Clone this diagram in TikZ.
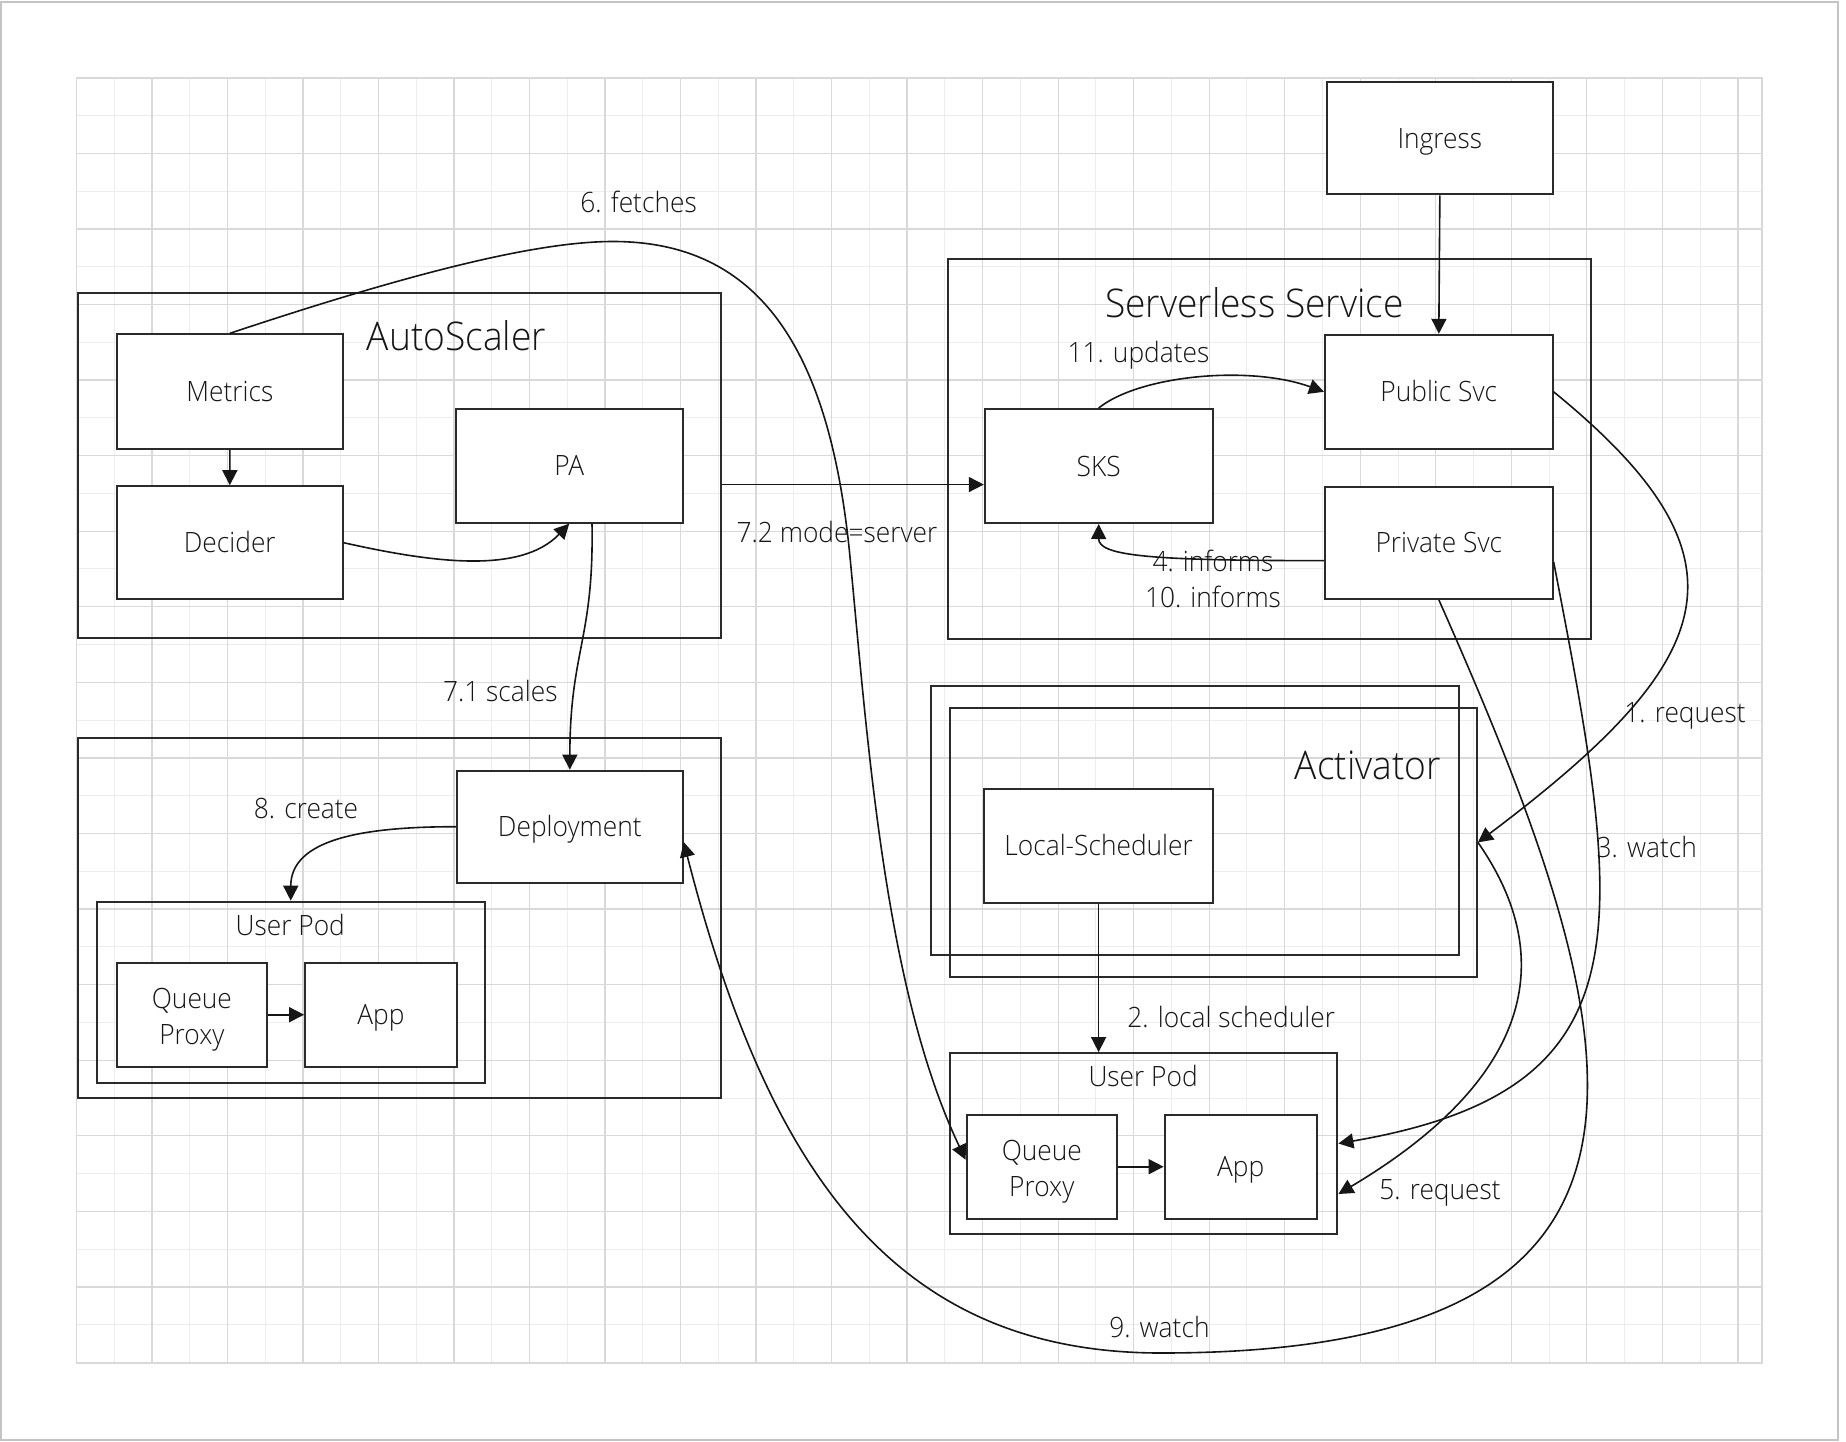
\documentclass[tikz,border=0pt]{standalone}
\usepackage{fontspec}
\IfFontExistsTF{Open Sans Light}
  {\setmainfont{Open Sans Light}[FakeStretch=0.94]}
  {\setmainfont{Open Sans}[FakeStretch=0.9]}
\usetikzlibrary{arrows.meta,calc}

\definecolor{ink}{HTML}{161616}
\definecolor{edgecol}{HTML}{2A2A2A}
\definecolor{gridmajor}{HTML}{D9D9D9}
\definecolor{gridminor}{HTML}{EDEDED}
\definecolor{framecol}{HTML}{C4C4C4}

\begin{document}
\begin{tikzpicture}[x=1pt,y=-1pt,
  txt/.style={font=\fontsize{28}{36}\selectfont, text=ink},
  title/.style={font=\fontsize{39.5}{46}\selectfont, text=ink, inner sep=0pt, anchor=base},
  boxbase/.style={draw=edgecol, line width=2pt, fill=white, inner sep=0pt, txt},
  box/.style={boxbase, text height=20pt, text depth=0pt},
  group/.style={draw=edgecol, line width=2pt, inner sep=0pt},
  lbl/.style={txt, inner sep=0pt, anchor=base},
  twoline/.style={txt, align=center, inner sep=0pt},
  conn/.style={draw=ink, line width=1.6pt, -{Triangle[length=15pt,width=15pt]}},
]
\useasboundingbox (0,0) rectangle (1846,1442);
\fill[white] (0,0) rectangle (1846,1442);

% background grid
\foreach \j in {1,3,...,43}
  \draw[gridminor, line width=1pt] ({76.4+37.76*\j},77.7) -- ({76.4+37.76*\j},1362.7);
\foreach \j in {1,3,...,33}
  \draw[gridminor, line width=1pt] (76.4,{77.7+37.79*\j}) -- (1762,{77.7+37.79*\j});
\foreach \j in {2,4,...,44}
  \draw[gridmajor, line width=1.3pt] ({76.4+37.76*\j},77.7) -- ({76.4+37.76*\j},1362.7);
\foreach \j in {2,4,...,32}
  \draw[gridmajor, line width=1.3pt] (76.4,{77.7+37.79*\j}) -- (1762,{77.7+37.79*\j});
\draw[gridmajor, line width=1.8pt] (76.4,77.7) rectangle (1762,1362.7);

% outer frame
\draw[framecol, line width=2pt] (1,1.7) rectangle (1838,1440);

% AutoScaler group
\node[group, minimum width=642.8pt, minimum height=344.9pt] (autoscaler) at (399.1,465.65) {};
\node[title] (tas) at (456.5,350) {AutoScaler};
\node[box, minimum width=225.8pt, minimum height=114.3pt] (metrics) at (229.9,391.45) {Metrics};
\node[box, minimum width=225.6pt, minimum height=113pt] (decider) at (229.8,542.7) {Decider};
\node[box, minimum width=227.2pt, minimum height=114.2pt] (pa) at (569.2,465.6) {PA};

% deployment group
\node[group, minimum width=642.8pt, minimum height=360.2pt] (deploygrp) at (399.1,918.3) {};
\node[box, minimum width=225.8pt, minimum height=112pt] (deploy) at (569.8,826.7) {Deployment};
\node[group, minimum width=387.5pt, minimum height=181.6pt] (pod1) at (290.75,992.5) {};
\node[lbl] (lpod1) at (290.3,935.7) {User Pod};
\node[boxbase, minimum width=150.4pt, minimum height=104pt] (qp1) at (191.9,1014.7) {};
\node[twoline] (qp1t) at (191.9,1019.5) {Queue\\Proxy};
\node[box, minimum width=151.8pt, minimum height=104pt] (app1) at (381,1014.7) {App};

% Serverless Service group
\node[group, minimum width=642.8pt, minimum height=379.2pt] (sls) at (1269.2,449) {};
\node[title] (tss) at (1254.4,317.2) {Serverless Service};
\node[box, minimum width=226.1pt, minimum height=111.9pt] (ingress) at (1439.85,138.35) {Ingress};
\node[box, minimum width=227.6pt, minimum height=114pt] (public) at (1438.8,391.8) {Public Svc};
\node[box, minimum width=227.6pt, minimum height=112.1pt] (private) at (1438.8,542.75) {Private Svc};
\node[box, minimum width=227.7pt, minimum height=114pt] (sks) at (1098.65,466) {SKS};

% Activator
\node[group, minimum width=527.5pt, minimum height=268.4pt] (act1) at (1194.95,820.6) {};
\node[group, minimum width=527pt, minimum height=269.6pt] (act2) at (1213.4,842.4) {};
\node[title] (tact) at (1368,779.5) {Activator};
\node[box, minimum width=228.4pt, minimum height=113.9pt] (sched) at (1098.6,845.75) {Local-Scheduler};

% user pod below the activator
\node[group, minimum width=387.5pt, minimum height=180.8pt] (pod2) at (1143.65,1143.5) {};
\node[lbl] (lpod2) at (1143.1,1086.6) {User Pod};
\node[boxbase, minimum width=150.4pt, minimum height=104pt] (qp2) at (1041.8,1166.7) {};
\node[twoline] (qp2t) at (1041.8,1171.5) {Queue\\Proxy};
\node[box, minimum width=152.1pt, minimum height=104pt] (app2) at (1240.65,1166.7) {App};

% connectors
\draw[conn] (metrics.south) -- (decider.north);
\draw[conn] (decider.east) .. controls (430,562) and (520,575) .. (pa.south);
\draw[conn] ($(pa.south)+(22.8,0)$) .. controls (594,640) and (570,650) .. (deploy.north);
\draw[conn] (deploy.west) .. controls (360,826.7) and (290.8,840) .. (pod1.north);
\draw[conn] (qp1.east) -- (app1.west);
\coordinate (modeA) at ($(autoscaler.east)+(0,18.9)$);
\draw[conn] (modeA) -- (modeA -| sks.west);
\draw[conn] (metrics.north) .. controls (420,270) and (540,241.5) .. (613,241.5)
  .. controls (760,241.5) and (830,350) .. (850,557)
  .. controls (868,745) and (885,990) .. ($(qp2.west)+(0,-7)$);
\draw[conn] (sks.north) .. controls (1140,375) and (1250,365) .. (public.west);
\draw[conn] ($(private.west)+(0,17.9)$) .. controls (1150,560.6) and (1098.6,556) .. (sks.south);
\draw[conn] (ingress.south) -- (public.north);
\draw[conn] (public.east) .. controls (1760,560) and (1720,660) .. (act2.east);
\draw[conn] ($(private.east)+(0,19)$) .. controls (1625,930) and (1650,1090) .. (pod2.east);
\draw[conn] (act2.east) .. controls (1560,960) and (1530,1080) .. ($(pod2.east)+(0,50.5)$);
\draw[conn] (private.south) .. controls (1634,1040) and (1720,1353) .. (1161,1353)
  .. controls (900,1353) and (770,1180) .. ($(deploy.east)+(0,15.3)$);
\draw[conn] (sched.south) -- (sched.south |- pod2.north);
\draw[conn] (qp2.east) -- (app2.west);

% connector labels
\node[lbl] (lfetch) at (638.6,212) {6. fetches};
\node[lbl] (lupd) at (1138.4,362) {11. updates};
\node[lbl] (lmode) at (837,542) {7.2 mode=server};
\node[twoline] (linf) at (1213,579) {4. informs\\10. informs};
\node[lbl] (lscale) at (500.3,701.7) {7.1 scales};
\node[lbl] (lcreate) at (306,818.3) {8. create};
\node[lbl] (lsched) at (1231.2,1027.2) {2. local scheduler};
\node[lbl] (lreq1) at (1685,722.6) {1. request};
\node[lbl] (lwatch3) at (1646.8,857.2) {3. watch};
\node[lbl] (lreq5) at (1440,1199.8) {5. request};
\node[lbl] (lwatch9) at (1159.4,1337.2) {9. watch};
\end{tikzpicture}
\end{document}
